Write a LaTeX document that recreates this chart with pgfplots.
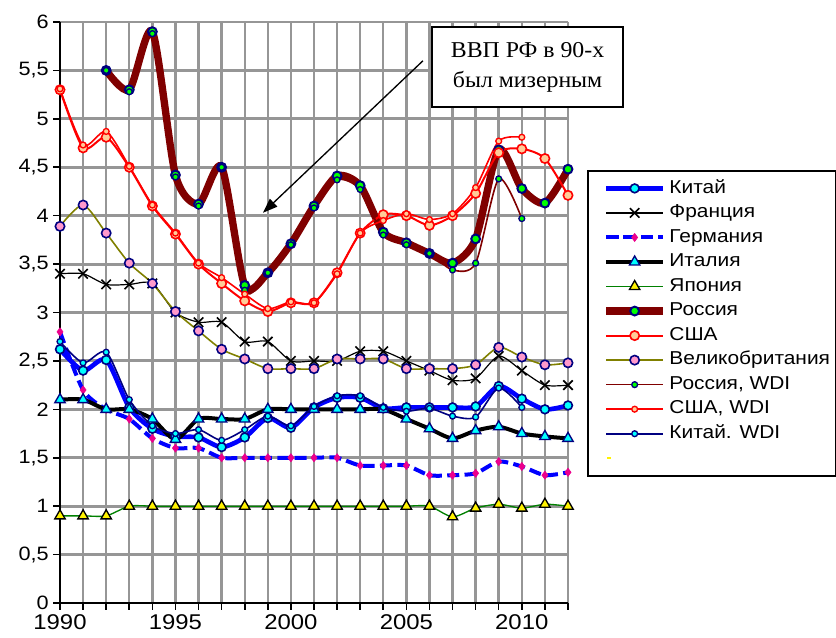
\documentclass[border=0pt]{standalone}
\usepackage{fontspec}
\setmainfont{Liberation Sans}[FakeStretch=1.12]
\newfontfamily\serifru{Liberation Serif}[FakeStretch=1.05]
\usepackage{pgfplots}
\pgfplotsset{compat=1.18}
\usetikzlibrary{arrows.meta}
\definecolor{navyM}{RGB}{0,0,128}
\definecolor{maroonM}{RGB}{128,0,0}
\definecolor{peachM}{RGB}{255,204,153}
\definecolor{pinkM}{RGB}{255,153,204}
\definecolor{oliveM}{RGB}{128,128,0}
\definecolor{cyanM}{RGB}{0,255,255}
\definecolor{gridM}{RGB}{150,150,150}
\definecolor{greenM}{RGB}{0,255,0}
\definecolor{japM}{RGB}{0,128,0}
\begin{document}
\begin{tikzpicture}
\begin{axis}[
  scale only axis, width=381pt, height=435.75pt,
  xmin=1990, xmax=2012, ymin=0, ymax=6,
  clip=false,
  axis x line=bottom, axis y line=left,
  axis line style={-, line width=1.2pt, black},
  xtick={1990,...,2012},
  xticklabels={1990,,,,,1995,,,,,2000,,,,,2005,,,,,2010,,},
  ytick={0,0.5,1,1.5,2,2.5,3,3.5,4,4.5,5,5.5,6},
  yticklabel={\pgfmathprintnumber[use comma,fixed,precision=1]{\tick}},
  /pgf/number format/assume math mode=true,
  xticklabel style={font=\fontsize{16}{18}\selectfont},
  yticklabel style={font=\fontsize{14.5}{16}\selectfont},
  xmajorgrids=true, ymajorgrids=true,
  x grid style={gridM, line width=1.8pt},
  y grid style={gridM, line width=2.2pt},
  tick align=outside, major tick length=5pt,
  tick style={black, line width=1.2pt},
  legend image code/.code={\path (0pt,0pt); \draw[mark repeat=2,mark phase=2,#1] plot coordinates {(9pt,0pt) (30.4pt,0pt) (51.75pt,0pt)};},
  legend style={at={(axis description cs:1.0374,0.7453)}, anchor=north west,
    draw=black, line width=1.2pt, inner xsep=2pt, inner ysep=4pt,
    font=\fontsize{14}{16}\selectfont, row sep=0pt,
    nodes={text height=10.5pt, text depth=3.5pt, inner ysep=2.2pt}},
  legend cell align=left,
  every axis plot/.append style={tension=0.45},
]
\addplot[blue, line width=3.5pt, smooth, mark=*, mark size=3.3pt, mark options={solid, fill=cyanM, draw=navyM, line width=1.2pt}] coordinates {
(1990,2.62) (1991,2.40) (1992,2.51) (1993,2.02) (1994,1.80) (1995,1.72) (1996,1.71) (1997,1.61) (1998,1.71) (1999,1.91) (2000,1.81) (2001,2.02) (2002,2.12) (2003,2.12) (2004,2.01) (2005,2.02) (2006,2.02) (2007,2.02) (2008,2.03) (2009,2.24) (2010,2.11) (2011,2.00) (2012,2.04)};
\addlegendentry{Китай}
\addplot[black, line width=0.9pt, smooth, mark=x, mark size=5pt, mark options={solid, line width=1.2pt}] coordinates {
(1990,3.4) (1991,3.4) (1992,3.29) (1993,3.29) (1994,3.3) (1995,3.0) (1996,2.9) (1997,2.9) (1998,2.7) (1999,2.7) (2000,2.5) (2001,2.5) (2002,2.5) (2003,2.6) (2004,2.6) (2005,2.5) (2006,2.4) (2007,2.3) (2008,2.32) (2009,2.55) (2010,2.4) (2011,2.25) (2012,2.25)};
\addlegendentry{Франция}
\addplot[blue, line width=3pt, dash pattern=on 9pt off 4pt, smooth, mark=diamond*, mark size=3pt, mark options={solid, fill=magenta, draw=magenta, line width=0.5pt}] coordinates {
(1990,2.8) (1991,2.2) (1992,2.0) (1993,1.9) (1994,1.7) (1995,1.6) (1996,1.6) (1997,1.5) (1998,1.5) (1999,1.5) (2000,1.5) (2001,1.5) (2002,1.5) (2003,1.42) (2004,1.42) (2005,1.42) (2006,1.32) (2007,1.32) (2008,1.34) (2009,1.46) (2010,1.41) (2011,1.32) (2012,1.35)};
\addlegendentry{Германия}
\addplot[black, line width=3pt, smooth, mark=triangle*, mark size=4.5pt, mark options={solid, fill=cyanM, draw=navyM, line width=1pt}] coordinates {
(1990,2.1) (1991,2.1) (1992,2.0) (1993,2.0) (1994,1.9) (1995,1.69) (1996,1.9) (1997,1.9) (1998,1.9) (1999,2.0) (2000,2.0) (2001,2.0) (2002,2.0) (2003,2.0) (2004,2.0) (2005,1.9) (2006,1.8) (2007,1.7) (2008,1.78) (2009,1.82) (2010,1.75) (2011,1.72) (2012,1.7)};
\addlegendentry{Италия}
\addplot[japM, line width=1pt, smooth, mark=triangle*, mark size=4.5pt, mark options={solid, fill=yellow, draw=black, line width=1pt}] coordinates {
(1990,0.9) (1991,0.9) (1992,0.9) (1993,1.0) (1994,1.0) (1995,1.0) (1996,1.0) (1997,1.0) (1998,1.0) (1999,1.0) (2000,1.0) (2001,1.0) (2002,1.0) (2003,1.0) (2004,1.0) (2005,1.0) (2006,1.0) (2007,0.89) (2008,0.98) (2009,1.02) (2010,0.98) (2011,1.02) (2012,1.0)};
\addlegendentry{Япония}
\addplot[maroonM, line width=5.5pt, smooth, mark=*, mark size=3.3pt, mark options={solid, fill=greenM, draw=navyM, line width=1.5pt}] coordinates {
(1992,5.5) (1993,5.3) (1994,5.9) (1995,4.42) (1996,4.12) (1997,4.5) (1998,3.28) (1999,3.41) (2000,3.71) (2001,4.1) (2002,4.41) (2003,4.31) (2004,3.83) (2005,3.72) (2006,3.61) (2007,3.51) (2008,3.76) (2009,4.68) (2010,4.28) (2011,4.13) (2012,4.48)};
\addlegendentry{Россия}
\addplot[red, line width=1.5pt, smooth, mark=*, mark size=3.5pt, mark options={solid, fill=peachM, draw=red, line width=1.2pt}] coordinates {
(1990,5.3) (1991,4.7) (1992,4.81) (1993,4.5) (1994,4.1) (1995,3.81) (1996,3.5) (1997,3.3) (1998,3.12) (1999,3.01) (2000,3.1) (2001,3.1) (2002,3.41) (2003,3.82) (2004,4.01) (2005,4.0) (2006,3.9) (2007,4.0) (2008,4.23) (2009,4.65) (2010,4.69) (2011,4.59) (2012,4.21)};
\addlegendentry{США}
\addplot[oliveM, line width=1.2pt, smooth, mark=*, mark size=3.5pt, mark options={solid, fill=pinkM, draw=navyM, line width=1.2pt}] coordinates {
(1990,3.89) (1991,4.11) (1992,3.82) (1993,3.51) (1994,3.3) (1995,3.01) (1996,2.81) (1997,2.62) (1998,2.52) (1999,2.42) (2000,2.42) (2001,2.42) (2002,2.52) (2003,2.52) (2004,2.52) (2005,2.42) (2006,2.42) (2007,2.42) (2008,2.46) (2009,2.64) (2010,2.54) (2011,2.46) (2012,2.48)};
\addlegendentry{Великобритания}
\addplot[maroonM, line width=1.2pt, smooth, mark=*, mark size=2.2pt, mark options={solid, fill=greenM, draw=navyM, line width=1pt}] coordinates {
(1992,5.5) (1993,5.28) (1994,5.88) (1995,4.4) (1996,4.1) (1997,4.5) (1998,3.23) (1999,3.41) (2000,3.7) (2001,4.08) (2002,4.37) (2003,4.27) (2004,3.8) (2005,3.7) (2006,3.61) (2007,3.44) (2008,3.51) (2009,4.38) (2010,3.97)};
\addlegendentry{Россия, WDI}
\addplot[red, line width=1.2pt, smooth, mark=*, mark size=2.2pt, mark options={solid, fill=peachM, draw=red, line width=1pt}] coordinates {
(1990,5.31) (1991,4.73) (1992,4.87) (1993,4.51) (1994,4.11) (1995,3.82) (1996,3.51) (1997,3.36) (1998,3.19) (1999,3.04) (2000,3.11) (2001,3.1) (2002,3.4) (2003,3.82) (2004,3.95) (2005,4.02) (2006,3.96) (2007,4.02) (2008,4.29) (2009,4.77) (2010,4.81)};
\addlegendentry{США, WDI}
\addplot[navyM, line width=1.2pt, smooth, mark=*, mark size=2.2pt, mark options={solid, fill=cyanM, draw=navyM, line width=1pt}] coordinates {
(1990,2.70) (1991,2.48) (1992,2.59) (1993,2.10) (1994,1.83) (1995,1.75) (1996,1.79) (1997,1.68) (1998,1.79) (1999,1.93) (2000,1.83) (2001,2.03) (2002,2.14) (2003,2.14) (2004,2.02) (2005,1.98) (2006,2.01) (2007,1.93) (2008,1.92) (2009,2.22) (2010,2.02)};
\addlegendentry{Китай. WDI}
\addlegendimage{legend image code/.code={\path (0pt,0pt); \draw[yellow, line width=1.5pt] (10pt,0pt) -- (13pt,0pt);}}
\addlegendentry{\mbox{}}
\draw[-{Triangle[length=11pt,width=8pt]}, line width=1pt, black] (axis cs:2005.72,5.60) -- (axis cs:1998.79,4.03);
\node[draw=black, line width=1.2pt, fill=white, font=\serifru\fontsize{17}{22.5}\selectfont, align=center, minimum width=143pt, minimum height=60pt, inner sep=2pt] at (axis cs:2010.25,5.535) {ВВП РФ в 90-х\\был мизерным};
\end{axis}
\pgfresetboundingbox
\path[use as bounding box] (-45pt,-25.5pt) rectangle (582pt,452.25pt);
\end{tikzpicture}
\end{document}
